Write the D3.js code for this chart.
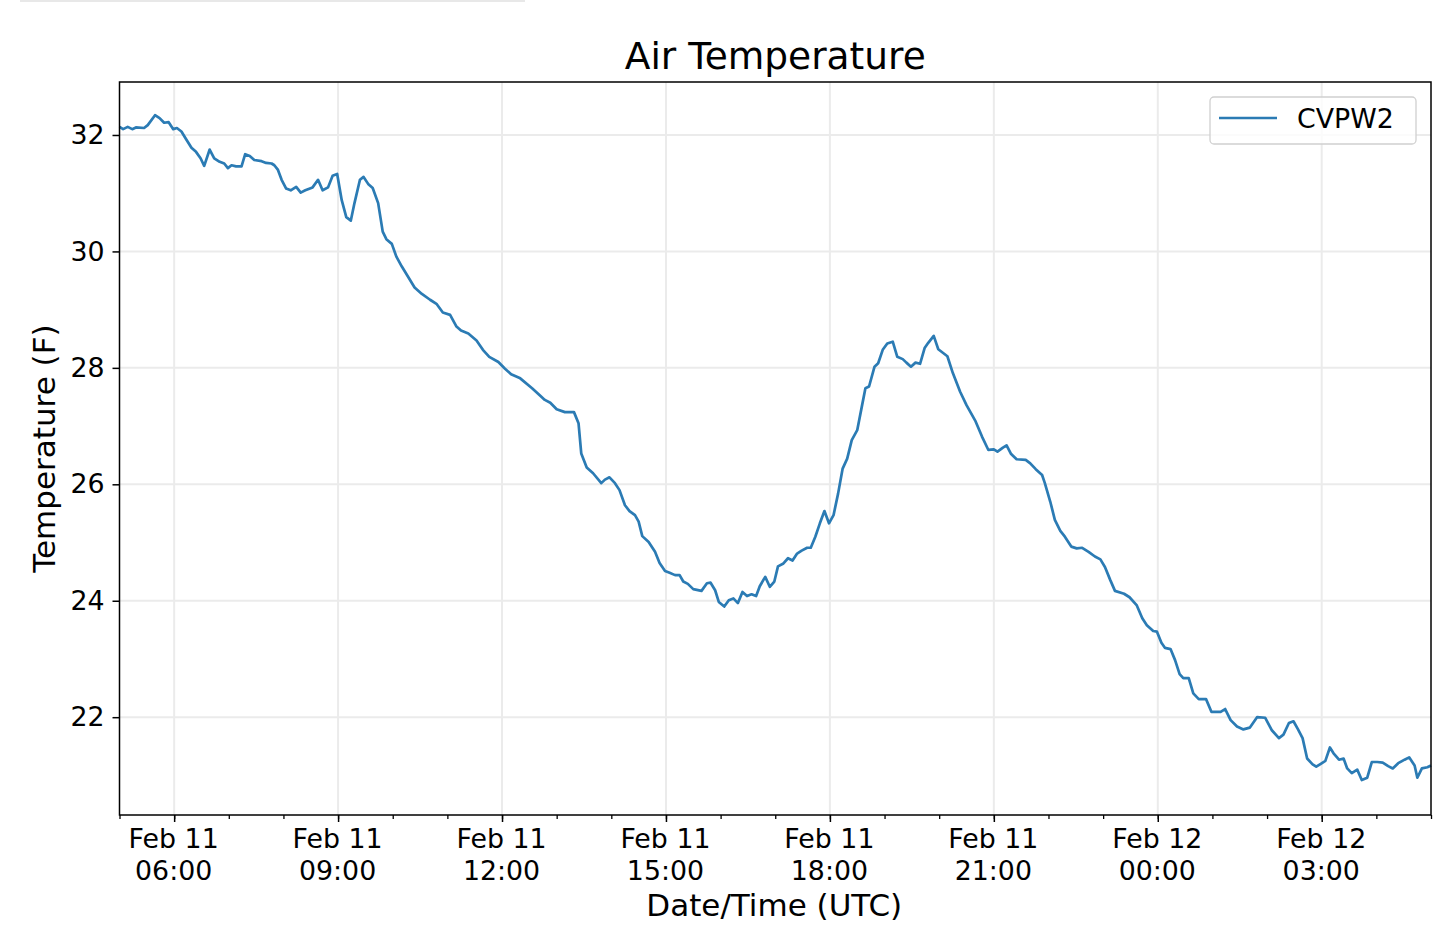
<!DOCTYPE html>
<html>
<head>
<meta charset="utf-8">
<script src="https://cdn.jsdelivr.net/npm/d3@7"></script>
<style>
  body { margin: 0; background: #fff; }
  text { font-family: "DejaVu Sans", sans-serif; fill: #000; }
</style>
</head>
<body>
<svg id="chart" width="1440" height="939"></svg>
<script>
// series start (UTC) and readings: minutes after start, temperature in F
var startTime = "2020-02-11T05:00:00Z";
var minutes = [0,4,9,14,18,27,31,39,44,49,54,59,63,68,73,79,84,89,93,99,104,110,115,119,123,128,134,138,143,148,156,161,167,170,174,178,183,188,194,199,204,212,218,223,229,234,239,
  244,249,254,258,264,268,273,278,284,289,293,299,304,310,317,324,332,341,348,355,363,370,375,383,392,399,406,416,423,430,440,453,462,
  467,473,480,489,499,504,507,513,520,529,533,538,544,549,555,560,566,570,574,581,588,593,599,604,610,615,619,624,630,639,645,649,654,658,664,669,674,679,684,689,694,699,703,709,714,
  719,723,729,734,739,744,749,755,759,764,769,774,779,784,789,794,799,804,810,815,819,823,829,833,838,843,849,854,860,864,869,874,879,884,888,894,899,904,909,915,923,930,940,947,
  954,960,964,970,974,979,985,995,1000,1006,1013,1016,1022,1027,1033,1038,1045,1051,1057,1064,1071,1077,1082,1088,1093,1103,1109,1117,1123,1128,1135,1139,1144,1148,1154,1159,1164,1168,1174,
  1179,1185,1193,1199,1209,1214,1220,1227,1234,1241,1249,1258,1265,1273,1278,1284,1289,1294,1299,1304,1310,1314,1319,1324,1329,1333,1339,1344,1348,1353,1359,1364,1370,1375,1381,1387,1393,1398,1404,1411,1416,1422,1425,1430,1436,1440];
var tempF = [32.14,32.10,32.14,32.10,32.13,32.12,32.17,32.34,32.29,32.21,32.22,32.10,32.12,32.06,31.93,31.78,31.71,31.60,31.47,31.75,31.60,31.54,31.51,31.43,31.48,31.46,31.46,31.67,31.64,31.57,31.55,31.52,31.51,31.48,31.40,31.23,31.08,31.05,31.11,31.01,31.05,31.10,31.23,31.05,31.10,31.30,31.33,
  30.88,30.59,30.53,30.83,31.23,31.28,31.16,31.09,30.83,30.34,30.21,30.13,29.91,29.74,29.56,29.38,29.27,29.17,29.10,28.95,28.91,28.71,28.64,28.59,28.47,28.31,28.19,28.10,27.99,27.89,27.82,27.65,27.52,
  27.45,27.40,27.29,27.24,27.24,27.05,26.53,26.29,26.19,26.02,26.08,26.12,26.02,25.90,25.64,25.54,25.47,25.36,25.11,25.01,24.84,24.65,24.51,24.48,24.44,24.44,24.33,24.29,24.20,24.17,24.30,24.31,24.18,23.98,23.90,24.01,24.04,23.96,24.15,24.08,24.11,24.08,24.25,24.41,24.24,
  24.33,24.59,24.64,24.73,24.69,24.81,24.86,24.91,24.91,25.10,25.33,25.54,25.33,25.47,25.84,26.27,26.44,26.76,26.93,27.33,27.65,27.68,28.02,28.08,28.31,28.42,28.45,28.19,28.15,28.09,28.02,28.09,28.07,28.34,28.43,28.55,28.32,28.26,28.20,27.91,27.59,27.36,27.08,26.82,
  26.59,26.60,26.56,26.63,26.67,26.52,26.43,26.42,26.36,26.26,26.16,26.02,25.70,25.39,25.20,25.10,24.93,24.90,24.91,24.84,24.76,24.71,24.58,24.35,24.17,24.12,24.06,23.92,23.70,23.58,23.48,23.47,23.28,23.19,23.17,22.98,22.74,22.67,22.67,
  22.41,22.31,22.31,22.09,22.09,22.14,21.95,21.84,21.79,21.82,22.00,21.99,21.78,21.64,21.70,21.90,21.93,21.79,21.64,21.29,21.19,21.15,21.20,21.25,21.48,21.38,21.27,21.29,21.12,21.04,21.10,20.92,20.96,21.23,21.23,21.22,21.16,21.12,21.21,21.27,21.31,21.17,20.96,21.12,21.14,21.17];
var yTicks = [22, 24, 26, 28, 30, 32];
var seriesName = "CVPW2";

var margin = {top: 82, right: 9, bottom: 124, left: 119.5},
    width = 1440 - margin.left - margin.right,
    height = 939 - margin.top - margin.bottom;

var t0 = new Date(startTime);
var data = minutes.map(function (m, i) {
  return {date: new Date(t0.getTime() + m * 60000), temp: tempF[i]};
});

var x = d3.scaleUtc()
    .domain([t0, d3.utcHour.offset(t0, 24)])
    .range([0, width]);
var y = d3.scaleLinear()
    .domain([20.32, 32.91])
    .range([height, 0]);

var svg = d3.select("#chart");

// faint strip at the top edge of the screenshot
svg.append("rect").attr("x", 20).attr("y", 0).attr("width", 505).attr("height", 2).attr("fill", "#e8e8e8");

var g = svg.append("g")
    .attr("transform", "translate(" + margin.left + "," + margin.top + ")");

var majorTimes = d3.utcHour.every(3).range(d3.utcHour.offset(t0, 1), d3.utcHour.offset(t0, 24));

// grid
g.append("g").selectAll("line").data(majorTimes).join("line")
    .attr("x1", function (d) { return x(d); }).attr("x2", function (d) { return x(d); })
    .attr("y1", 0).attr("y2", height)
    .attr("stroke", "#ebebeb").attr("stroke-width", 2);
g.append("g").selectAll("line").data(yTicks).join("line")
    .attr("x1", 0).attr("x2", width)
    .attr("y1", function (d) { return y(d); }).attr("y2", function (d) { return y(d); })
    .attr("stroke", "#ebebeb").attr("stroke-width", 2);

// the line
var valueline = d3.line()
    .x(function (d) { return x(d.date); })
    .y(function (d) { return y(d.temp); });
g.append("path")
    .datum(data)
    .attr("fill", "none")
    .attr("stroke", "#2b7bb4")
    .attr("stroke-width", 2.7)
    .attr("stroke-linejoin", "round")
    .attr("d", valueline);

// minor x ticks (hourly)
var xMinor = d3.axisBottom(x)
    .ticks(d3.utcHour.every(1))
    .tickSize(4)
    .tickFormat("");
g.append("g")
    .attr("transform", "translate(0," + height + ")")
    .call(xMinor)
    .call(function (a) { a.select(".domain").remove(); a.selectAll("line").attr("stroke", "#000").attr("stroke-width", 1.3); });

// major x ticks with two-line labels
var fmtDay = d3.utcFormat("%b %d"), fmtHour = d3.utcFormat("%H:%M");
var xAxis = d3.axisBottom(x)
    .tickValues(majorTimes)
    .tickSize(7)
    .tickPadding(10)
    .tickFormat("");
var xg = g.append("g")
    .attr("transform", "translate(0," + height + ")")
    .call(xAxis);
xg.select(".domain").remove();
xg.selectAll("line").attr("stroke", "#000").attr("stroke-width", 1.5);
xg.selectAll(".tick").each(function (d) {
  var t = d3.select(this).select("text")
      .attr("y", 0).attr("dy", null)
      .style("font-size", "26.8px").style("font-family", "DejaVu Sans").attr("fill", "#000");
  t.append("tspan").attr("x", -1).attr("y", 33).text(fmtDay(d));
  t.append("tspan").attr("x", -1).attr("y", 65).text(fmtHour(d));
});

// y axis
var yAxis = d3.axisLeft(y)
    .tickValues(yTicks)
    .tickSize(7)
    .tickPadding(8);
var yg = g.append("g").call(yAxis);
yg.select(".domain").remove();
yg.selectAll("line").attr("stroke", "#000").attr("stroke-width", 1.5);
yg.selectAll("text").style("font-size", "26.8px").style("font-family", "DejaVu Sans").attr("fill", "#000");

// frame
g.append("rect")
    .attr("width", width).attr("height", height)
    .attr("fill", "none").attr("stroke", "#000").attr("stroke-width", 1.5);

// title and axis labels
svg.append("text")
    .attr("x", margin.left + width / 2).attr("y", 69)
    .attr("text-anchor", "middle")
    .style("font-size", "37.5px")
    .text("Air Temperature");
svg.append("text")
    .attr("x", margin.left + width / 2 - 1).attr("y", 916)
    .attr("text-anchor", "middle")
    .style("font-size", "31px")
    .text("Date/Time (UTC)");
svg.append("text")
    .attr("transform", "translate(55," + (margin.top + height / 2) + ") rotate(-90)")
    .attr("text-anchor", "middle")
    .style("font-size", "31px")
    .text("Temperature (F)");

// legend
var lg = g.append("g").attr("transform", "translate(" + (width - 221) + ",15)");
lg.append("rect")
    .attr("width", 206).attr("height", 47).attr("rx", 4)
    .attr("fill", "#fff").attr("fill-opacity", 0.8)
    .attr("stroke", "#d0d0d0").attr("stroke-width", 1.3);
lg.append("line")
    .attr("x1", 9).attr("x2", 67).attr("y1", 21).attr("y2", 21)
    .attr("stroke", "#2b7bb4").attr("stroke-width", 2.7);
lg.append("text")
    .attr("x", 87).attr("y", 31)
    .style("font-size", "26.8px")
    .text(seriesName);
</script>
</body>
</html>
